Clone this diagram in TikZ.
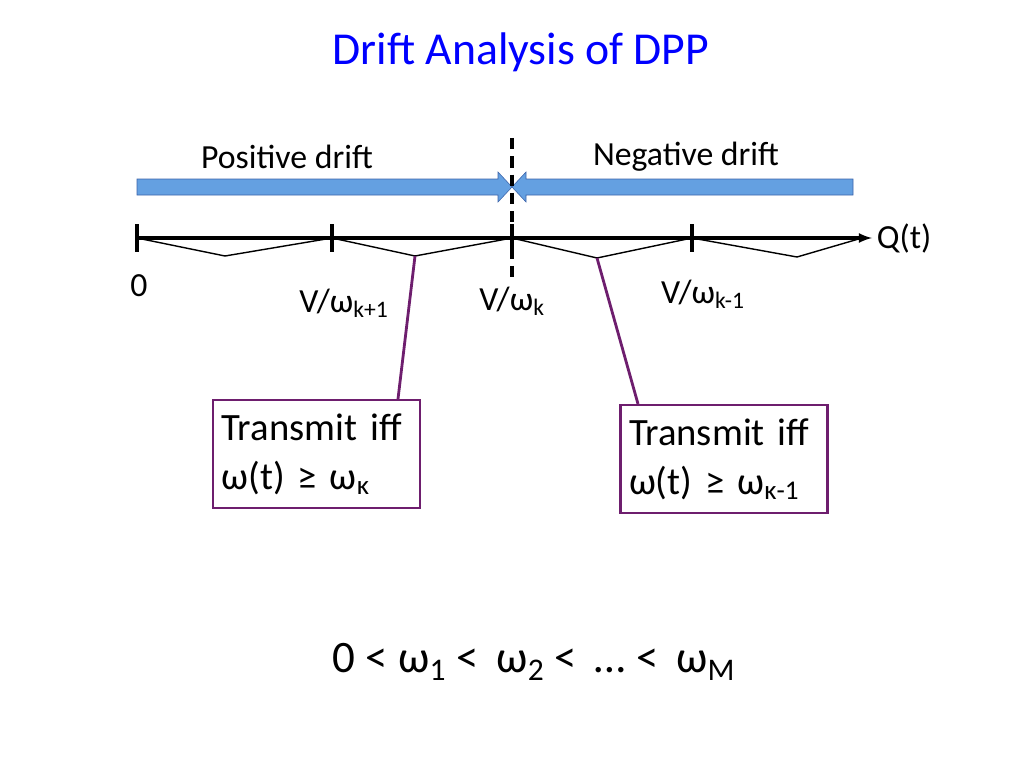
\documentclass[tikz,border=0pt]{standalone}
\usepackage{fontspec}
\setmainfont{Carlito}
\usetikzlibrary{positioning}
\definecolor{drift}{RGB}{100,160,225}
\definecolor{driftline}{RGB}{60,100,170}
\definecolor{callout}{RGB}{110,30,110}
\tikzset{
	tick/.style={line width=2.2pt},
	zig/.style={line width=1pt},
	lbl/.style={font=\fontsize{24}{28}\selectfont},
	callbox/.style={draw=callout, line width=1.5pt, align=left, inner sep=6pt,
		font=\fontsize{27.5}{35}\selectfont, minimum width=207*0.025cm, minimum height=108*0.025cm, text width=190*0.025cm},
	pointer/.style={draw=callout, line width=2pt}
}
\begin{document}
\begin{tikzpicture}[x=0.025cm, y=-0.025cm]
	\useasboundingbox (0,0) rectangle (1024,768);
	\node[blue, font=\fontsize{32.5}{38}\selectfont] (title) at (521,52) {Drift Analysis of DPP};

	% drift arrows
	\draw[driftline, fill=drift] (137,179) -- (498,179) -- (498,172) -- (512,187) -- (498,202) -- (498,195) -- (137,195) -- cycle;
	\draw[driftline, fill=drift] (853,179) -- (526,179) -- (526,172) -- (512,187) -- (526,202) -- (526,195) -- (853,195) -- cycle;
	\node[lbl] (pos) at (287,157) {Positive drift};
	\node[lbl] (neg) at (686,157) {Negative drift};
	\coordinate (dtop) at (512,138);
	\coordinate (dbot) at (512,282);
	\draw[line width=2.2pt, dash pattern=on 8pt off 5pt] (dtop) -- (dbot);

	% axis
	\coordinate (o) at (137,238);
	\coordinate (qend) at (872,238);
	\draw[line width=2.2pt, -latex] (o) -- (qend);
	\node[lbl, right=0pt of qend] (q) {Q(t)};
	\foreach \x/\n in {137/t0, 332/t1, 512/t2, 692/t3} {
		\coordinate (\n) at (\x,238);
		\draw[tick] (\x,224) -- (\x,252);
	}
	\coordinate (z1) at (225,256);
	\coordinate (z2) at (415,256);
	\coordinate (z3) at (597,258);
	\coordinate (z4) at (797,257);
	\coordinate (t4) at (862,238);
	\draw[zig] (t0) -- (z1) -- (t1) -- (z2) -- (t2) -- (z3) -- (t3) -- (z4) -- (t4);

	\node[lbl] (l0) at (139,286) {0};
	\node[lbl] (l1) at (344,303) {V/ω\textsubscript{k+1}};
	\node[lbl] (l2) at (512,301) {V/ω\textsubscript{k}};
	\node[lbl] (l3) at (703,294) {V/ω\textsubscript{k-1}};

	% callouts
	\node[callbox] (b1) at (316.5,454) {\raggedright Transmit iff\\ω(t) ≥ ω\textsubscript{κ}};
	\node[callbox] (b2) at (724,459) {\raggedright Transmit iff\\ω(t) ≥ ω\textsubscript{κ-1}};
	\draw[pointer] (z2) -- (b1.north -| 398,0);
	\draw[pointer] (z3) -- (b2.north -| 638,0);

	\node[font=\fontsize{32}{38}\selectfont] (order) at (534,662) {0 < ω\textsubscript{1} <\, ω\textsubscript{2} < \,… <\, ω\textsubscript{M}};
\end{tikzpicture}
\end{document}
